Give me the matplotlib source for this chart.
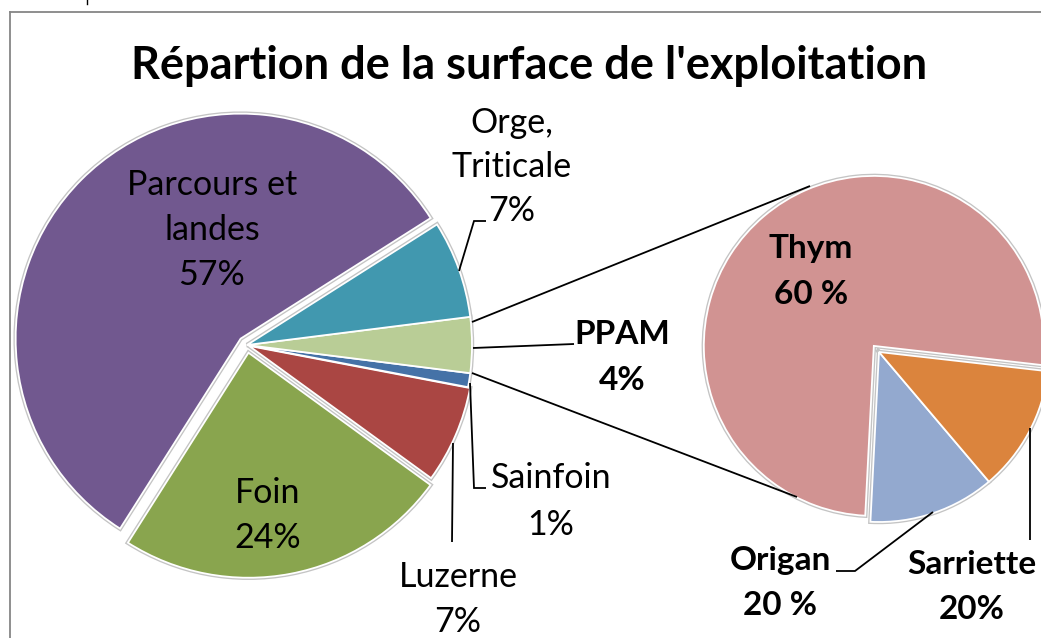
import matplotlib
matplotlib.use("Agg")
import matplotlib.pyplot as plt

# ---------------- data ----------------
main_labels = ["Parcours et landes", "Foin", "Luzerne", "Sainfoin", "PPAM", "Orge, Triticale"]
main_values = [57, 24, 7, 1, 4, 7]
main_colors = ["#71588F", "#89A54E", "#AA4643", "#4572A7", "#B9CD96", "#4198AF"]
main_explode = [0.04, 0.035, 0.01, 0, 0, 0]   # fraction of radius

sub_labels = ["Thym", "Origan", "Sarriette"]
sub_values = [76, 12, 12]          # slice sizes as drawn
sub_texts = ["60 %", "20 %", "20%"]  # percentages as written on the chart
sub_colors = ["#D19392", "#93A9CF", "#DB843D"]
sub_explode = [0.047, 0, 0]

title = "Répartion de la surface de l'exploitation"

# ---------------- figure ----------------
W, H = 1041, 638
fig = plt.figure(figsize=(W / 100, H / 100), dpi=100)
ax = fig.add_axes([0, 0, 1, 1])

FONT = "Lato"


def Y(y):
    return H - y


def draw_pie(values, colors, explode, center, radius, start):
    expl = [e * radius for e in explode]
    # gray shadow-like outline, then white edge
    ax.pie(values, colors=colors, explode=expl, startangle=start,
           center=(center[0], Y(center[1])), radius=radius,
           wedgeprops=dict(edgecolor="#c4c4c4", linewidth=3.2))
    ax.pie(values, colors=colors, explode=expl, startangle=start,
           center=(center[0], Y(center[1])), radius=radius,
           wedgeprops=dict(edgecolor="white", linewidth=1.3))


draw_pie(main_values, main_colors, main_explode, (247, 345), 225, 32.4)
draw_pie(sub_values, sub_colors, sub_explode, (879, 352), 170, -6.5)


def line(pts, lw=1.3):
    ax.plot([p[0] for p in pts], [Y(p[1]) for p in pts], color="black",
            lw=lw, solid_capstyle="butt", solid_joinstyle="miter")


# connector lines between pies
line([(472, 322), (810, 186)])
line([(472, 373), (797, 497)])

# leader lines
line([(459, 271), (474, 221), (486, 221)])
line([(473, 348), (574, 344)])
line([(470, 383), (474, 488), (486, 488)])
line([(453, 443), (452, 542)])
line([(933, 512), (855, 571), (836, 571)])
line([(1030, 428), (1030, 540)])


def label(x, baselines, lines, size=24.5, bold=False):
    for b, t in zip(baselines, lines):
        ax.text(x, Y(b), t, ha="center", va="baseline", fontsize=size,
                family=FONT, fontweight="bold" if bold else "normal",
                color="black")


label(212, [195, 240, 285], ["Parcours et", "landes", f"{main_values[0]}%"])
label(268, [503, 548], [main_labels[1], f"{main_values[1]}%"])
label(458, [587, 632], [main_labels[2], f"{main_values[2]}%"])
label(551, [488, 535], [main_labels[3], f"{main_values[3]}%"])
label(622, [344, 390], [main_labels[4], f"{main_values[4]}%"], size=24, bold=True)
label(512, [133, 177, 221], ["Orge,", "Triticale", f"{main_values[5]}%"])

label(811, [258, 304], [sub_labels[0], sub_texts[0]], size=24, bold=True)
label(780, [570, 615], [sub_labels[1], sub_texts[1]], size=24, bold=True)
label(972, [574, 619], [sub_labels[2], sub_texts[2]], size=24, bold=True)

# title
ax.text(529, Y(79), title, ha="center", va="baseline", fontsize=32.5,
        family=FONT, fontweight="bold", color="black")

# chart border (top and left visible)
ax.plot([10, W + 5], [Y(12), Y(12)], color="#868686", lw=1.3)
ax.plot([10, 10], [Y(12), Y(H + 5)], color="#868686", lw=1.3)
ax.plot([87, 87], [Y(0), Y(4)], color="black", lw=1.0)

ax.set_xlim(0, W)
ax.set_ylim(0, H)
ax.set_aspect("auto")
ax.axis("off")

fig.savefig("out.png", dpi=100)
